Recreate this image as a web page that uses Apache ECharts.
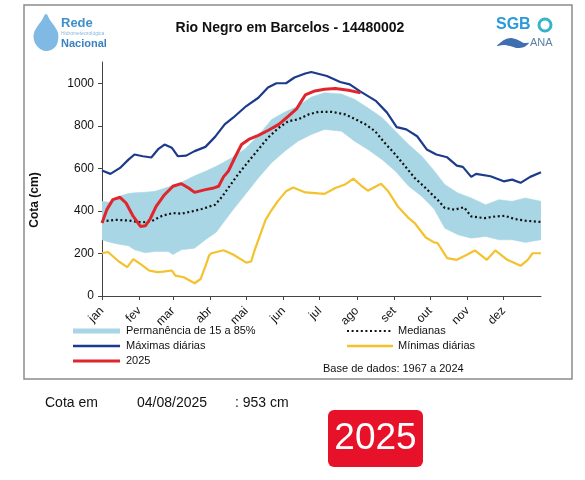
<!DOCTYPE html>
<html>
<head>
<meta charset="utf-8">
<script src="https://cdn.jsdelivr.net/npm/echarts@6/dist/echarts.min.js"></script>
<style>
html,body{margin:0;padding:0;background:#fff;}
#chart{width:585px;height:480px;}
</style>
</head>
<body>
<div id="chart"></div>
<script>
// ---- data (day of year, cota in cm) ----
const monthNames = ['jan','fev','mar','abr','mai','jun','jul','ago','set','out','nov','dez'];
const monthStarts = [0,31,59,90,120,151,181,212,243,273,304,334];
const yTicks = [0,200,400,600,800,1000];

const bandDays = [0,7,16,22,27,36,44,55,59,66,77,86,95,108,119,130,141,152,163,174,185,199,210,221,233,244,255,266,276,285,296,307,319,330,341,352,365];
const bandLow  = [264,252,241,236,217,203,209,209,195,217,225,265,300,398,476,555,626,681,728,759,783,775,728,689,641,586,516,468,410,319,288,272,280,264,264,252,264];
const bandHigh = [445,440,472,482,485,488,492,512,522,535,565,586,610,650,692,755,830,865,893,935,956,950,925,885,838,775,712,657,590,524,484,461,429,453,445,461,445];

const maximas = [[0,590],[7,574],[15,602],[22,641],[27,665],[34,657],[41,651],[47,692],[52,712],[58,697],[63,657],[70,660],[77,681],[86,701],[94,748],[102,807],[109,838],[120,893],[130,932],[138,980],[145,1000],[153,1000],[160,1027],[169,1046],[174,1053],[187,1034],[198,1006],[206,995],[214,964],[228,916],[237,862],[245,794],[253,783],[262,751],[270,689],[278,665],[287,652],[295,613],[300,607],[307,560],[311,574],[323,563],[334,539],[341,547],[348,532],[356,560],[365,582]];

const minimas = [[0,201],[5,207],[14,162],[21,136],[26,173],[33,146],[39,120],[46,112],[51,115],[58,120],[59,126],[61,96],[68,88],[77,60],[82,80],[86,140],[89,190],[91,201],[101,215],[109,195],[120,157],[124,162],[127,217],[136,358],[140,395],[146,445],[153,492],[159,510],[169,487],[180,482],[185,480],[194,508],[202,524],[209,552],[216,516],[221,495],[232,528],[238,492],[246,421],[255,366],[260,343],[269,276],[276,252],[279,249],[287,178],[295,170],[303,193],[310,214],[320,170],[327,214],[337,170],[348,142],[354,170],[358,201],[365,201]];

const medianas = [[0,351],[11,358],[22,355],[33,346],[41,351],[50,377],[59,390],[66,387],[75,398],[83,409],[94,429],[100,468],[105,508],[113,571],[122,634],[130,689],[138,744],[147,791],[155,822],[163,830],[172,854],[180,866],[191,866],[202,854],[210,833],[219,807],[227,775],[235,720],[244,665],[252,610],[260,555],[269,508],[276,468],[279,453],[285,414],[293,406],[301,417],[307,374],[318,366],[327,374],[335,377],[343,362],[352,354],[365,348]];

const ano2025 = [[0,343],[4,406],[9,453],[15,464],[20,437],[26,374],[32,327],[36,330],[40,362],[45,421],[52,476],[59,516],[66,528],[72,508],[77,487],[86,500],[93,508],[97,516],[101,560],[105,586],[111,657],[116,712],[122,736],[130,755],[138,778],[147,807],[155,846],[162,881],[165,909],[169,945],[177,964],[185,972],[194,975],[205,967],[215,955]];

const titulo = 'Rio Negro em Barcelos - 14480002';
const cotaData = '04/08/2025';
const cotaValor = ': 953 cm';
const anoLabel = '2025';
const baseDados = 'Base de dados: 1967 a 2024';

// ---- colors ----
const cBand = '#a9d6e4', cMax = '#1d3b8b', cMin = '#f3c22c', cRed = '#e0262c', cMed = '#111';
const FONT = '"Liberation Sans", Arial, Helvetica, sans-serif';

const chart = echarts.init(document.getElementById('chart'), null, {renderer:'canvas'});

const txt = (x, y, text, size, opts) => Object.assign({
  type:'text', x:x, y:y, z:100,
  style: Object.assign({text:text, font: (opts && opts.bold ? 'bold ' : '') + size + 'px ' + FONT,
    fill:'#111', textAlign:'left', verticalAlign:'middle'}, (opts && opts.style) || {})
}, (opts && opts.extra) || {});

// band polygon drawn through the axis scales (api.coord)
function renderBand(params, api) {
  if (params.dataIndexInside !== 0) return null;
  const n = params.dataInsideLength;
  const upper = [], lower = [];
  for (let i = 0; i < n; i++) {
    const d = api.value(0, i);
    upper.push(api.coord([d, api.value(2, i)]));
    lower.push(api.coord([d, api.value(1, i)]));
  }
  return {type:'polygon', shape:{points: upper.concat(lower.reverse())},
    style:{fill:cBand, stroke:cBand, lineWidth:0.5}};
}

const option = {
  backgroundColor:'#fff',
  animation:false,
  grid:{left:102, top:62, width:439, height:234, containLabel:false},
  xAxis:{
    type:'value', min:0, max:365,
    axisLine:{show:true, onZero:false, lineStyle:{color:'#444', width:1}},
    axisTick:{show:true, customValues: monthStarts, length:4, lineStyle:{color:'#444'}},
    axisLabel:{customValues: monthStarts, rotate:45, margin:13, fontSize:12, fontFamily:FONT, color:'#111',
      formatter: v => monthNames[monthStarts.indexOf(v)]},
    splitLine:{show:false}
  },
  yAxis:{
    type:'value', min:0, max:1100,
    axisLine:{show:true, lineStyle:{color:'#444', width:1}},
    axisTick:{show:true, customValues: yTicks, length:4, lineStyle:{color:'#444'}},
    axisLabel:{customValues: yTicks, fontSize:12, fontFamily:FONT, color:'#111', margin:8,
      formatter: v => String(v)},
    splitLine:{show:false}
  },
  series:[
    {name:'Permanência de 15 a 85%', type:'custom', silent:true, z:1,
      data: bandDays.map((d,i)=>[d, bandLow[i], bandHigh[i]]),
      encode:{x:0, y:[1,2]}, renderItem: renderBand, clip:true},
    {name:'Medianas', type:'line', symbol:'none', data: medianas, z:3,
      lineStyle:{color:cMed, width:2.2, type:[2,2.6], cap:'butt'}},
    {name:'Mínimas diárias', type:'line', symbol:'none', data: minimas, z:3,
      lineStyle:{color:cMin, width:2.2}},
    {name:'Máximas diárias', type:'line', symbol:'none', data: maximas, z:3,
      lineStyle:{color:cMax, width:2.2}},
    {name:'2025', type:'line', symbol:'none', data: ano2025, z:4,
      lineStyle:{color:cRed, width:3}}
  ],
  graphic:[
    // outer frame
    {type:'rect', z:90, shape:{x:24, y:5, width:548, height:374}, style:{fill:'none', stroke:'#8c8c8c', lineWidth:1.5}},
    // title
    txt(290, 28, titulo, 14, {bold:true, style:{textAlign:'center'}}),
    // y axis name
    {type:'text', x:35, y:200, rotation:Math.PI/2, z:100,
      style:{text:'Cota (cm)', font:'bold 12px ' + FONT, fill:'#111', textAlign:'center', verticalAlign:'middle'}},
    // left logo (drop)
    {type:'polygon', z:100, shape:{points:[[46,14],[42,20],[37,27],[34,33],[34,40],[37,46],[42,50],[46,51],[51,50],[56,46],[58,40],[58,33],[55,27],[50,20]], smooth:0.4},
      style:{fill:'#6aaedf', opacity:0.85}},
    txt(61, 23, 'Rede', 13, {bold:true, style:{fill:'#3e8fcb'}}),
    txt(61, 34, 'Hidrometeorológica', 5, {style:{fill:'#88b8de'}}),
    txt(61, 44, 'Nacional', 11, {bold:true, style:{fill:'#3a80c0'}}),
    // right logo
    txt(496, 25, 'SGB', 16, {bold:true, style:{fill:'#2a9ad9'}}),
    {type:'circle', z:100, shape:{cx:545, cy:25, r:6}, style:{fill:'none', stroke:'#38b3c9', lineWidth:3}},
    {type:'polygon', z:100, shape:{points:[[497,46],[504,40],[511,38],[518,40],[524,43],[529,43],[524,47],[517,48],[510,46],[503,45]], smooth:0.3},
      style:{fill:'#3f6fb0'}},
    txt(530, 43, 'ANA', 11, {style:{fill:'#5b7fa8'}}),
    // legend (manual)
    {type:'rect', z:100, shape:{x:73, y:328.5, width:47, height:5}, style:{fill:cBand}},
    txt(126, 331, 'Permanência de 15 a 85%', 11),
    {type:'line', z:100, shape:{x1:73, y1:346, x2:120, y2:346}, style:{stroke:cMax, lineWidth:2.5}},
    txt(126, 346, 'Máximas diárias', 11),
    {type:'line', z:100, shape:{x1:73, y1:361, x2:120, y2:361}, style:{stroke:cRed, lineWidth:3}},
    txt(126, 361, '2025', 11),
    {type:'line', z:100, shape:{x1:347, y1:331, x2:393, y2:331}, style:{stroke:cMed, lineWidth:2, lineDash:[2,2.6]}},
    txt(398, 331, 'Medianas', 11),
    {type:'line', z:100, shape:{x1:347, y1:346, x2:393, y2:346}, style:{stroke:cMin, lineWidth:2.5}},
    txt(398, 346, 'Mínimas diárias', 11),
    txt(323, 369, baseDados, 11),
    // bottom info
    txt(45, 403, 'Cota em', 14),
    txt(137, 403, cotaData, 14),
    txt(235, 403, cotaValor, 14),
    {type:'rect', z:100, shape:{x:328, y:410, width:95, height:57, r:6}, style:{fill:'#e8112a'}},
    txt(375.5, 439, anoLabel, 37, {style:{fill:'#fff', textAlign:'center'}})
  ]
};
chart.setOption(option);
</script>
</body>
</html>
